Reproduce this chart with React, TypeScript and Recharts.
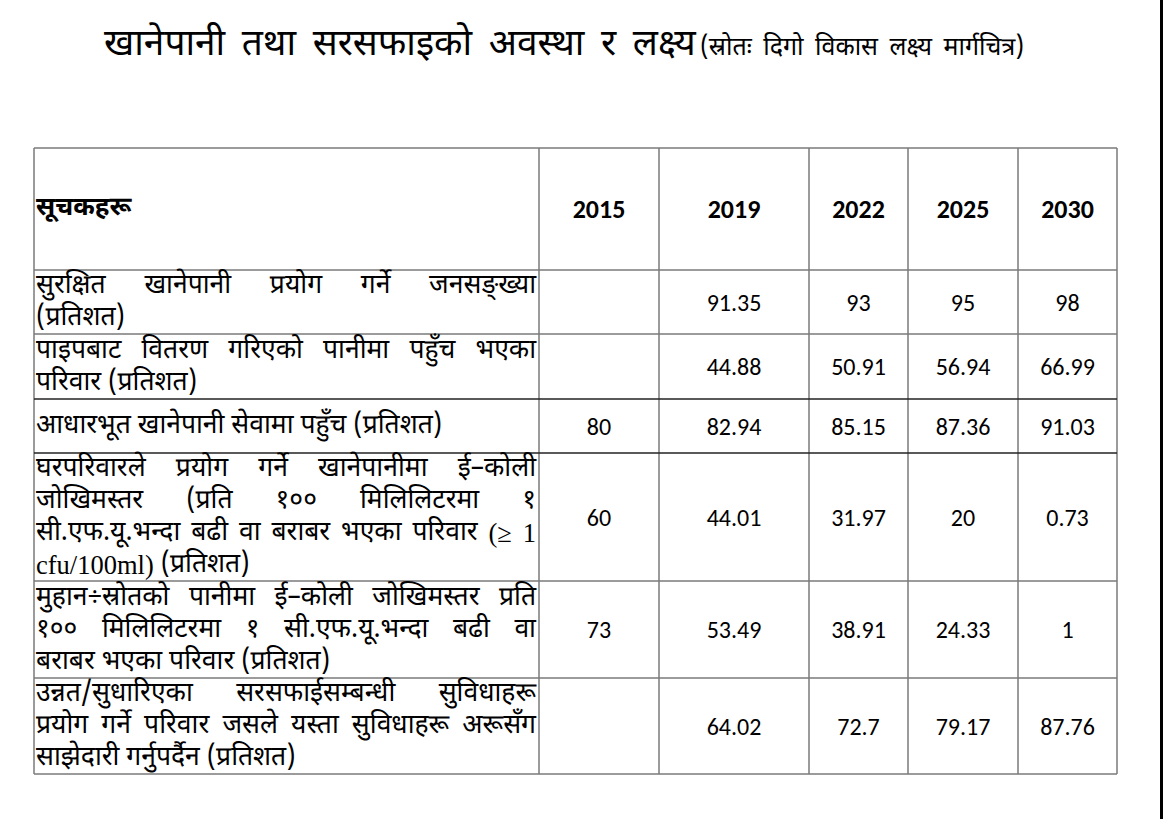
import { ScatterChart, Scatter, XAxis, YAxis, ReferenceLine } from "recharts";

// ---- data ----
const titleMain = "खानेपानी तथा सरसफाइको अवस्था र लक्ष्य";
const titleSource = "(स्रोतः दिगो विकास लक्ष्य मार्गचित्र)";
const headerLabel = "सूचकहरू";
const years = ["2015", "2019", "2022", "2025", "2030"];

const indicators: string[][] = [
  ["सुरक्षित खानेपानी प्रयोग गर्ने जनसङ्ख्या", "(प्रतिशत)"],
  ["पाइपबाट वितरण गरिएको पानीमा पहुँच भएका", "परिवार (प्रतिशत)"],
  ["आधारभूत खानेपानी सेवामा पहुँच (प्रतिशत)"],
  [
    "घरपरिवारले प्रयोग गर्ने खानेपानीमा ई–कोली",
    "जोखिमस्तर (प्रति १०० मिलिलिटरमा १",
    "सी.एफ.यू.भन्दा बढी वा बराबर भएका परिवार (≥ 1",
    "cfu/100ml) (प्रतिशत)",
  ],
  [
    "मुहान÷स्रोतको पानीमा ई–कोली जोखिमस्तर प्रति",
    "१०० मिलिलिटरमा १ सी.एफ.यू.भन्दा बढी वा",
    "बराबर भएका परिवार (प्रतिशत)",
  ],
  [
    "उन्नत/सुधारिएका सरसफाईसम्बन्धी सुविधाहरू",
    "प्रयोग गर्ने परिवार जसले यस्ता सुविधाहरू अरूसँग",
    "साझेदारी गर्नुपर्दैन (प्रतिशत)",
  ],
];

const values2015 = [null, null, 80, 60, 73, null];
const values2019 = [91.35, 44.88, 82.94, 44.01, 53.49, 64.02];
const values2022 = [93, 50.91, 85.15, 31.97, 38.91, 72.7];
const values2025 = [95, 56.94, 87.36, 20, 24.33, 79.17];
const values2030 = [98, 66.99, 91.03, 0.73, 1, 87.76];
const valuesByYear = [values2015, values2019, values2022, values2025, values2030];

// ---- layout ----
const W = 1169;
const H = 819;
const TABLE_LEFT = 34;
const TABLE_TOP = 148;
const colWidths = [505, 120, 150, 99, 110, 99];
const rowHeights = [122, 64, 65, 54, 128, 97, 96];
const LINE_H = 32;
const LABEL_W = 500;

const DEV = "'Noto Sans Devanagari', 'Lohit Devanagari', 'Mukta', 'Noto Sans', sans-serif";
const SERIF = "'Liberation Serif', 'DejaVu Serif', serif";
const NUM = "Carlito, Lato, 'Open Sans', sans-serif";
const LABEL_SIZE = 26.5;

const cum = (a: number[]) => a.reduce((acc, v) => [...acc, acc[acc.length - 1] + v], [0]);
const colEdges = cum(colWidths);
const rowEdges = cum(rowHeights);
const totalW = colEdges[colEdges.length - 1];
const totalH = rowEdges[rowEdges.length - 1];
const colMid = (i: number) => (colEdges[i] + colEdges[i + 1]) / 2;
const rowMid = (i: number) => (rowEdges[i] + rowEdges[i + 1]) / 2;

let ctx: CanvasRenderingContext2D | null = null;
const measure = (text: string, font: string) => {
  if (!ctx) ctx = document.createElement("canvas").getContext("2d");
  if (!ctx) return text.length * 10;
  ctx.font = font;
  return ctx.measureText(text).width;
};
const isLatin = (w: string) => /^[\x00-\x7F≥]+$/.test(w);

const headCells = [
  { x: 0, y: rowMid(0), text: headerLabel, kind: "label" },
  ...years.map((yr, i) => ({ x: colMid(i + 1), y: rowMid(0), text: yr, kind: "year" })),
];
const labelCells = indicators.map((lines, r) => ({ x: 0, y: rowMid(r + 1), lines }));
const valueCells = valuesByYear.flatMap((vals, c) =>
  vals
    .map((v, r) => (v == null ? null : { x: colMid(c + 1), y: rowMid(r + 1), text: String(v) }))
    .filter(Boolean)
) as { x: number; y: number; text: string }[];

const HeadShape = (p: any) => {
  const d = p.payload;
  if (d.kind === "label") {
    return (
      <text x={p.cx + 2} y={p.cy} dominantBaseline="central" fontFamily={DEV} fontWeight={700} fontSize={26} fill="#000">
        {d.text}
      </text>
    );
  }
  return (
    <text x={p.cx} y={p.cy} textAnchor="middle" dominantBaseline="central" fontFamily={NUM} fontWeight={700} fontSize={26} fill="#000">
      {d.text}
    </text>
  );
};

const LabelShape = (p: any) => {
  const lines: string[] = p.payload.lines;
  const n = lines.length;
  return (
    <g>
      {lines.map((line, i) => {
        const words = line.split(" ");
        const fonts = words.map((w) => (isLatin(w) ? SERIF : DEV));
        const widths = words.map((w, k) => measure(w, `${LABEL_SIZE}px ${fonts[k]}`));
        const sum = widths.reduce((a, b) => a + b, 0);
        const space = measure(" ", `${LABEL_SIZE}px ${DEV}`);
        const last = i === n - 1;
        const gap =
          last || words.length < 2 ? space : Math.max(space * 0.4, (LABEL_W - sum) / (words.length - 1));
        let x = p.cx + 2;
        const y = p.cy + (i - (n - 1) / 2) * LINE_H;
        return (
          <text key={i} y={y} dominantBaseline="central" fontSize={LABEL_SIZE} fill="#000">
            {words.map((w, k) => {
              const el = (
                <tspan key={k} x={x} fontFamily={fonts[k]}>
                  {w}
                </tspan>
              );
              x += widths[k] + gap;
              return el;
            })}
          </text>
        );
      })}
    </g>
  );
};

const ValueShape = (p: any) => (
  <text x={p.cx} y={p.cy} textAnchor="middle" dominantBaseline="central" fontFamily={NUM} fontSize={24} fill="#000">
    {p.payload.text}
  </text>
);

export default function App() {
  return (
    <div style={{ position: "absolute", left: 0, top: 0, width: W, height: H, background: "#fff", overflow: "hidden" }}>
      <div
        style={{
          position: "absolute",
          left: 104,
          top: 23,
          fontFamily: DEV,
          color: "#000",
          whiteSpace: "nowrap",
          lineHeight: "46px",
        }}
      >
        <span style={{ fontSize: 37, wordSpacing: 7 }}>{titleMain}</span>{" "}
        <span style={{ fontSize: 25, wordSpacing: 5 }}>{titleSource}</span>
      </div>
      <div style={{ position: "absolute", left: 1160, top: 0, width: 3, height: H, background: "#000" }} />
      <div style={{ position: "absolute", left: 0, top: 0 }}>
        <ScatterChart
          width={W}
          height={H}
          margin={{ left: TABLE_LEFT, top: TABLE_TOP, right: W - TABLE_LEFT - totalW, bottom: H - TABLE_TOP - totalH }}
        >
          <XAxis type="number" dataKey="x" domain={[0, totalW]} hide />
          <YAxis type="number" dataKey="y" domain={[0, totalH]} reversed hide />
          {colEdges.map((e) => (
            <ReferenceLine key={"c" + e} x={e} stroke="#7a7a7a" strokeWidth={1.5} ifOverflow="extendDomain" />
          ))}
          {rowEdges.map((e, i) => (
            <ReferenceLine
              key={"r" + e}
              y={e}
              stroke={i === 3 || i === 4 ? "#222" : "#7a7a7a"}
              strokeWidth={1.5}
              ifOverflow="extendDomain"
            />
          ))}
          <Scatter data={headCells} shape={HeadShape} isAnimationActive={false} />
          <Scatter data={labelCells} shape={LabelShape} isAnimationActive={false} />
          <Scatter data={valueCells} shape={ValueShape} isAnimationActive={false} />
        </ScatterChart>
      </div>
    </div>
  );
}
